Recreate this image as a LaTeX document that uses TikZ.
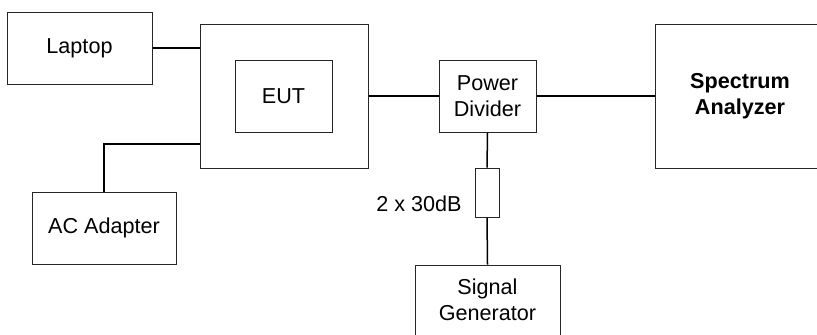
\documentclass[tikz,border=0pt]{standalone}
\usepackage{fontspec}
\setmainfont{Liberation Sans}
\usetikzlibrary{positioning}

\begin{document}
\begin{tikzpicture}[
    x=0.5pt, y=-0.5pt,
    box/.style={rectangle, draw=black!85, line width=0.5pt, inner sep=0pt,
                align=center, font=\fontsize{10.8}{12.8}\selectfont},
    wire/.style={line width=0.75pt, black},
    tag/.style={font=\fontsize{10.8}{12.8}\selectfont, inner sep=0pt},
]
  \useasboundingbox (0,0) rectangle (817,334);
  \clip (0,0) rectangle (817,334);

  % Equipment
  \node[box, minimum width=72.5pt, minimum height=36pt] (laptop) at (79.5,48) {Laptop};
  \node[box, minimum width=84pt, minimum height=72pt] (host) at (284,96) {};
  \node[box, minimum width=48.5pt, minimum height=36pt] (eut) at (283.5,96) {EUT};
  \node[box, minimum width=72pt, minimum height=36pt] (adapter) at (104,228) {AC Adapter};
  \node[box, minimum width=48.5pt, minimum height=36pt] (divider) at (487.5,96) {Power\\Divider};
  \node[box, minimum width=85pt, minimum height=72pt, font=\fontsize{10.8}{12.8}\selectfont\bfseries]
    (analyzer) at (740,96) {Spectrum\\Analyzer};
  \node[box, minimum width=12pt, minimum height=24.5pt] (atten) at (487,192.5) {};
  \node[box, minimum width=72.5pt, minimum height=35pt] (siggen) at (487.5,300) {Signal\\Generator};

  % Attenuator label
  \node[tag, anchor=east] (attlabel) at (462,204) {2 x 30dB};

  % Cables
  \coordinate (acport) at (200,144);
  \draw[wire] (laptop.east) -- (laptop.east -| host.west);
  \draw[wire] (acport) -| (adapter.north);
  \draw[wire] (host.east) -- (divider.west);
  \draw[wire] (divider.east) -- (analyzer.west);
  \draw[wire] (divider.south) -- (atten.north);
  \draw[wire] (atten.south) -- (siggen.north);

\end{tikzpicture}
\end{document}
